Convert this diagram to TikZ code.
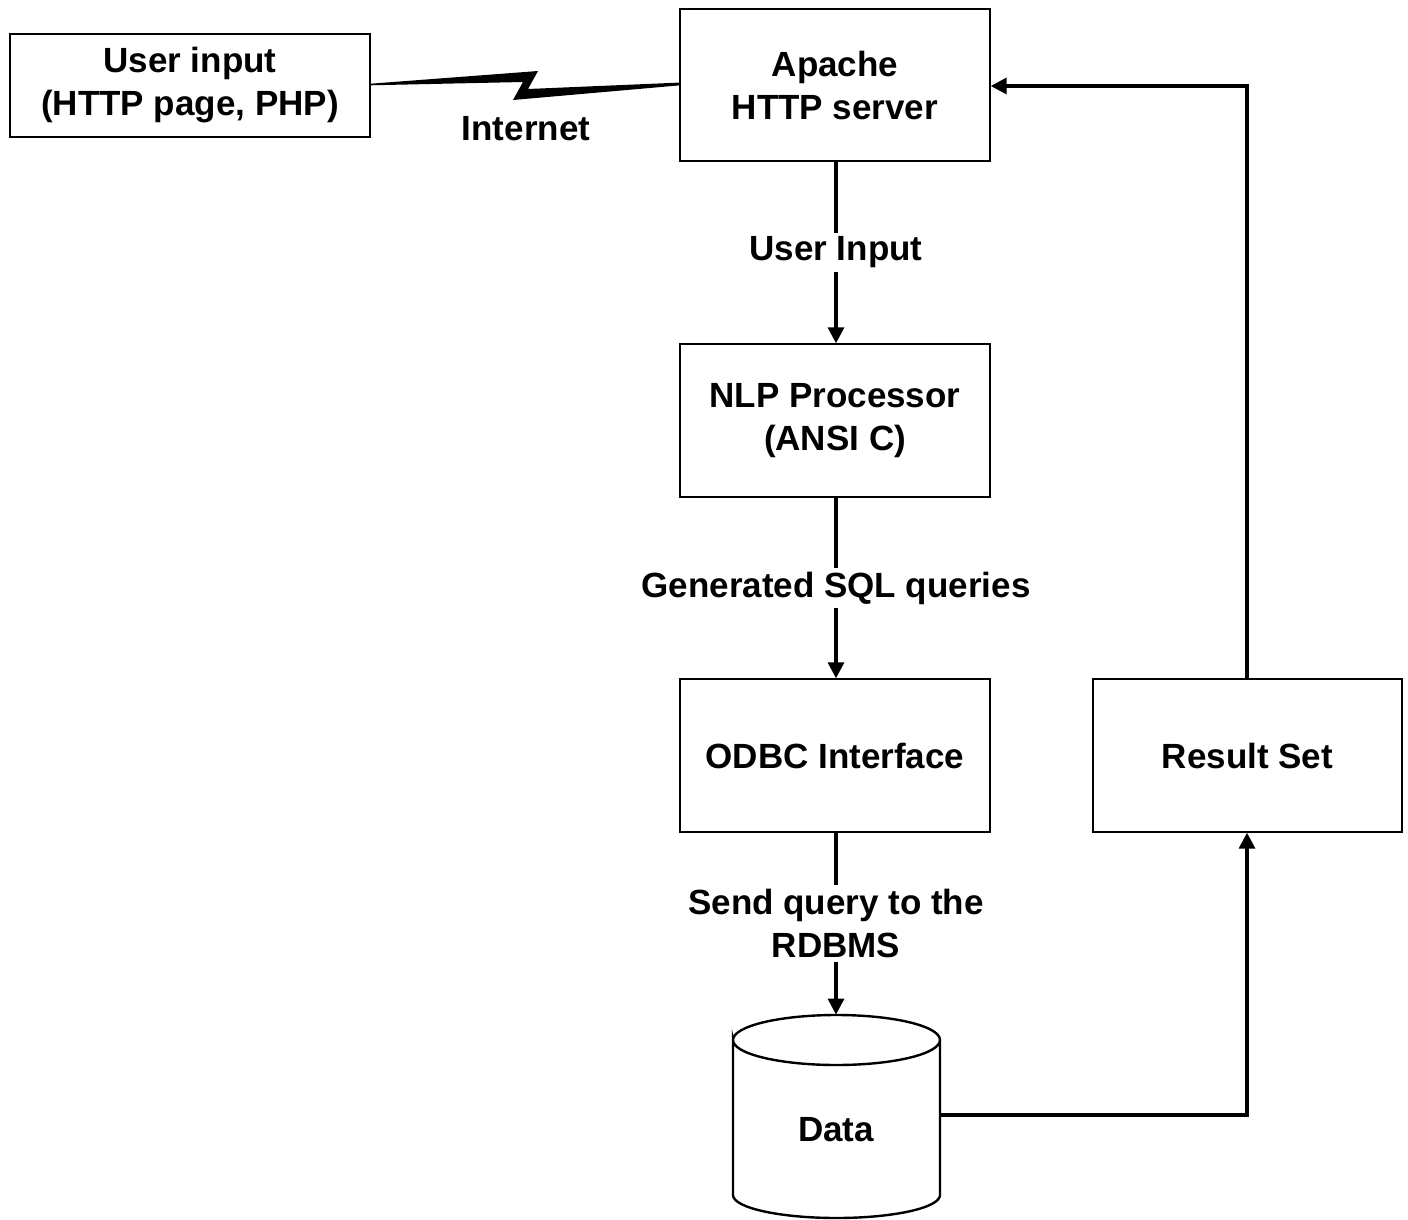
\documentclass[tikz,border=0pt]{standalone}
\usepackage{fontspec}
\setmainfont{Liberation Sans}
\usetikzlibrary{arrows.meta}
\begin{document}
\begin{tikzpicture}[x=0.5pt,y=-0.5pt,
  box/.style={draw,line width=0.7pt,rectangle,inner sep=0pt},
  txt/.style={font=\fontsize{17.5}{21.5}\selectfont\bfseries,align=center},
  flow/.style={line width=1.7pt,-{Triangle[width=8pt,length=8pt]}},
  lbl/.style={txt,fill=white,inner sep=2pt}]
\useasboundingbox (0,0) rectangle (1408,1220);
\node[box,txt,minimum width=180pt,minimum height=51.5pt] (userbox) at (190,85.5) {User input\\(HTTP page, PHP)};
\node[box,txt,minimum width=155pt,minimum height=76pt] (apache) at (835,85) {Apache\\HTTP server};
\node[box,txt,minimum width=155pt,minimum height=76.5pt] (nlp) at (835,420.5) {NLP Processor\\(ANSI C)};
\node[box,txt,minimum width=155pt,minimum height=76.5pt] (odbc) at (835,755.5) {ODBC Interface};
\node[box,txt,minimum width=154.5pt,minimum height=76.5pt] (result) at (1247.5,755.5) {Result Set};
% cylinder
\node[inner sep=0pt,minimum width=103.5pt,minimum height=101.5pt] (data) at (836,1116.5) {};
\draw[line width=1.2pt] (733,1040) arc[start angle=180,end angle=360,x radius=103.5,y radius=25]
  arc[start angle=0,end angle=180,x radius=103.5,y radius=25] -- (733,1195)
  arc[start angle=180,end angle=0,x radius=103.5,y radius=23] -- (940,1040);
\node[txt] (datatext) at (836,1130) {Data};
% lightning
\coordinate (zl) at (userbox.east |- 0,84.5);
\coordinate (zr) at (apache.west |- 0,84);
\fill ([yshift=0.4pt]zl) -- (538,71) -- (528,89) -- ([yshift=0.7pt]zr) -- ([yshift=-0.7pt]zr) -- (513,100) -- (523,82) -- ([yshift=-0.4pt]zl) -- cycle;
\node[txt] (internet) at (526,129) {Internet};
% flows
\draw[flow] (apache.south -| 836,0) -- node[lbl] (l1) {User Input} (nlp.north -| 836,0);
\draw[flow] (nlp.south -| 836,0) -- node[lbl] (l2) {Generated SQL queries} (odbc.north -| 836,0);
\draw[flow] (odbc.south -| 836,0) -- node[lbl] (l3) {Send query to the\\RDBMS} (data.north);
\draw[flow] (data.east |- 0,1115) -| (result.south -| 1247,0);
\draw[flow] (result.north -| 1247,0) |- (apache.east |- 0,86);
\end{tikzpicture}
\end{document}
